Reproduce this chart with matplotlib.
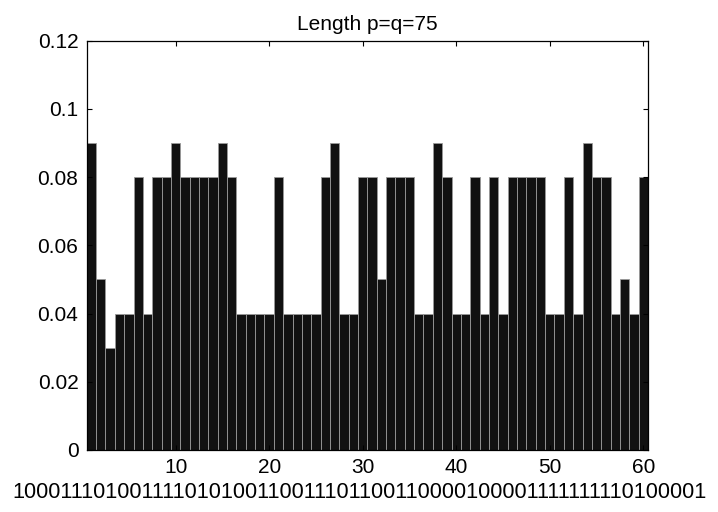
import matplotlib
matplotlib.use("Agg")
from matplotlib import pyplot as plt
import numpy as np

plt.rcParams['font.family'] = ['Liberation Sans', 'DejaVu Sans']

title = 'Length p=q=75'
pattern = '100011101001111010100110011101100110000100001111111110100001'
positions = np.arange(1, 61)
values = [0.09, 0.05, 0.03, 0.04, 0.04, 0.08, 0.04, 0.08, 0.08, 0.09,
          0.08, 0.08, 0.08, 0.08, 0.09, 0.08, 0.04, 0.04, 0.04, 0.04,
          0.08, 0.04, 0.04, 0.04, 0.04, 0.08, 0.09, 0.04, 0.04, 0.08,
          0.08, 0.05, 0.08, 0.08, 0.08, 0.04, 0.04, 0.09, 0.08, 0.04,
          0.04, 0.08, 0.04, 0.08, 0.04, 0.08, 0.08, 0.08, 0.08, 0.04,
          0.04, 0.08, 0.04, 0.09, 0.08, 0.08, 0.04, 0.05, 0.04, 0.08]
xticks = [10, 20, 30, 40, 50, 60]
yticks = [0, 0.02, 0.04, 0.06, 0.08, 0.1, 0.12]
ytick_labels = ['0', '0.02', '0.04', '0.06', '0.08', '0.1', '0.12']

fig = plt.figure(figsize=(7.18, 5.12), dpi=100)
ax = fig.add_axes([0.1208, 0.1211, 0.7817, 0.7994])

ax.bar(positions, values, width=1.0, color='#111111',
       edgecolor='#9a9a9a', linewidth=0.6)

ax.set_xlim(0.5, 60.5)
ax.set_ylim(0, 0.12)
ax.set_xticks(xticks)
ax.set_yticks(yticks)
ax.set_yticklabels(ytick_labels)
ax.tick_params(direction='in', length=3.5, width=0.8, labelsize=15,
               top=True, right=True, pad=6)
for s in ax.spines.values():
    s.set_linewidth(0.9)

ax.set_title(title, fontsize=15, pad=8)
# the bit string sits centred on the figure, below the tick labels
fig.text(0.5, 0.039, pattern, fontsize=15.6, ha='center', va='center')

fig.savefig('out.png', dpi=100)
